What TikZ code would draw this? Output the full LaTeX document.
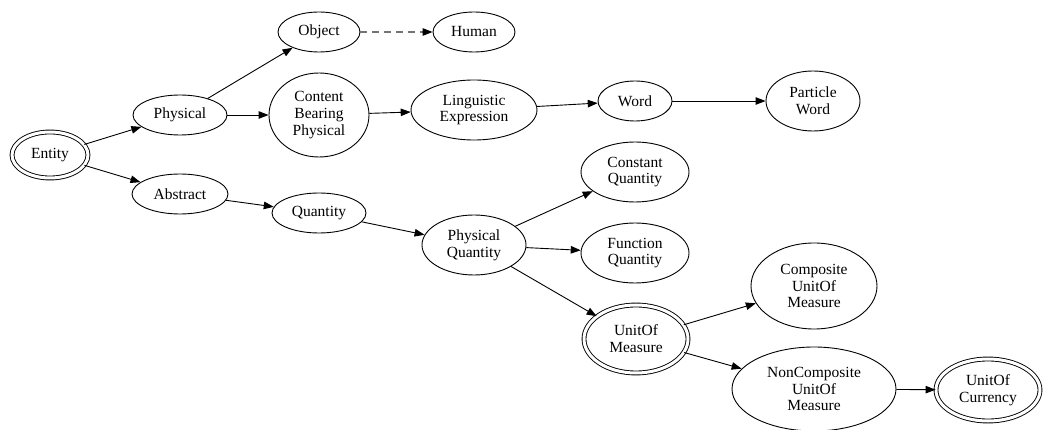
\documentclass[tikz,border=0pt]{standalone}
\usepackage{fontspec}
\setmainfont{Liberation Serif}
\usetikzlibrary{shapes.geometric,arrows.meta}
\begin{document}
\begin{tikzpicture}[x=1pt,y=-1pt,
  nd/.style={draw,ellipse,inner sep=0pt,line width=0.9pt,align=center,
    font=\fontsize{15.5}{16.8}\selectfont},
  dbl/.style={nd,double,double distance=3pt},
  edge/.style={line width=0.9pt,-{Triangle[length=10pt,width=7.5pt]}},
  dedge/.style={line width=1.2pt,draw=black!55,dash pattern=on 7pt off 5pt,
    -{Triangle[length=10pt,width=7.5pt,color=black]}}]
\useasboundingbox (0,0) rectangle (1045,430);
\node[dbl,minimum width=76pt,minimum height=46pt] (entity) at (50,155) {Entity};
\node[nd,minimum width=94pt,minimum height=40pt] (physical) at (180,115) {Physical};
\node[nd,minimum width=96pt,minimum height=40pt] (abstract) at (180,194) {Abstract};
\node[nd,minimum width=82pt,minimum height=40pt] (object) at (319,32) {Object};
\node[nd,minimum width=100pt,minimum height=84pt] (cbp) at (319,115) {Content\\Bearing\\Physical};
\node[nd,minimum width=94pt,minimum height=40pt] (quantity) at (319,213) {Quantity};
\node[nd,minimum width=82pt,minimum height=40pt] (human) at (474,32) {Human};
\node[nd,minimum width=126pt,minimum height=60pt] (ling) at (474,110) {Linguistic\\Expression};
\node[nd,minimum width=104pt,minimum height=60pt] (pq) at (474,245) {Physical\\Quantity};
\node[nd,minimum width=74pt,minimum height=40pt] (word) at (635,101) {Word};
\node[nd,minimum width=108pt,minimum height=60pt] (cq) at (635,172) {Constant\\Quantity};
\node[nd,minimum width=108pt,minimum height=60pt] (fq) at (635,253) {Function\\Quantity};
\node[dbl,minimum width=104pt,minimum height=68pt] (uom) at (636,339) {UnitOf\\Measure};
\node[nd,minimum width=94pt,minimum height=60pt] (pw) at (813,101) {Particle\\Word};
\node[nd,minimum width=126pt,minimum height=86pt] (cuom) at (814,286) {Composite\\UnitOf\\Measure};
\node[nd,minimum width=164pt,minimum height=84pt] (ncuom) at (814,389) {NonComposite\\UnitOf\\Measure};
\node[dbl,minimum width=104pt,minimum height=62pt] (uoc) at (988,390) {UnitOf\\Currency};
\draw[edge] (entity) -- (physical);
\draw[edge] (entity) -- (abstract);
\draw[edge] (physical) -- (object);
\draw[edge] (physical) -- (cbp);
\draw[dedge] (object) -- (human);
\draw[edge] (cbp) -- (ling);
\draw[edge] (ling) -- (word);
\draw[edge] (word) -- (pw);
\draw[edge] (abstract) -- (quantity);
\draw[edge] (quantity) -- (pq);
\draw[edge] (pq) -- (cq);
\draw[edge] (pq) -- (fq);
\draw[edge] (pq) -- (uom);
\draw[edge] (uom) -- (cuom);
\draw[edge] (uom) -- (ncuom);
\draw[edge] (ncuom) -- (uoc);
\end{tikzpicture}
\end{document}
